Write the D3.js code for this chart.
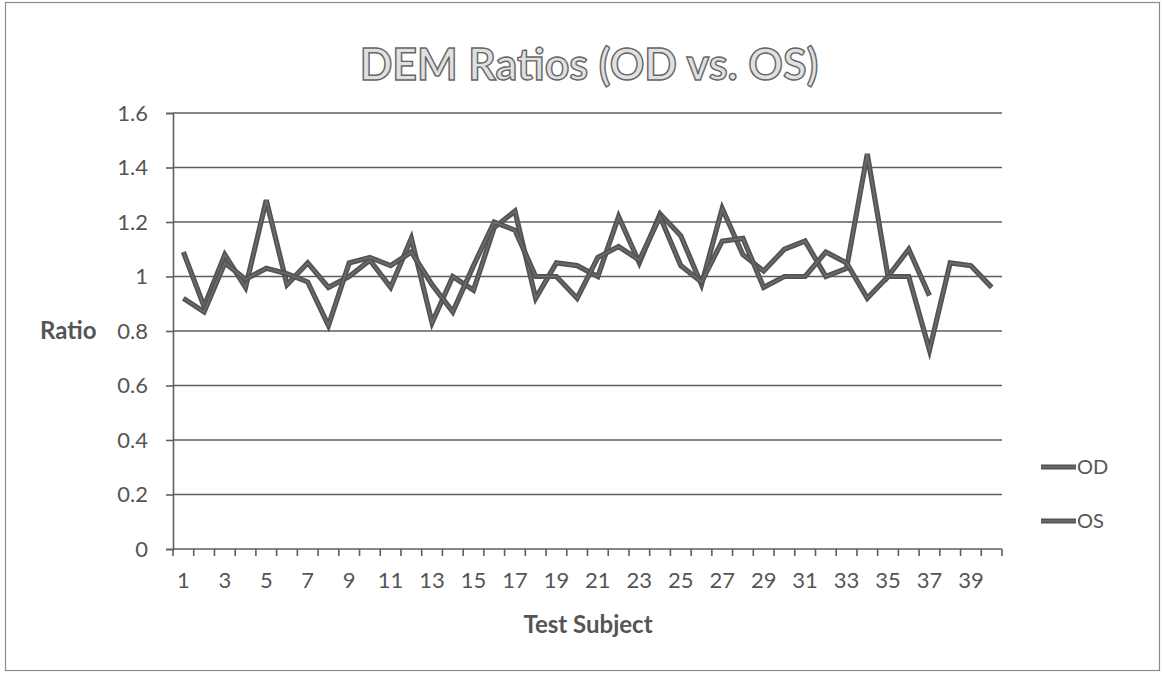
<!DOCTYPE html>
<html>
<head>
<meta charset="utf-8">
<script src="https://cdn.jsdelivr.net/npm/d3@7"></script>
<style>
  html, body { margin: 0; padding: 0; background: #fff; }
  svg { display: block; }
  text { font-family: Lato, "Open Sans", "Noto Sans", sans-serif; }
</style>
</head>
<body>
<svg id="chart" width="1162" height="673"></svg>
<script>
// Test subjects 1..40
const subjects = d3.range(1, 41);

// DEM ratio per subject, right eye (OD) and left eye (OS); OD stops at subject 37
const odValues = [1.09, 0.89, 1.08, 0.96, 1.28, 0.97, 1.05, 0.96, 1.00, 1.06,
                  0.96, 1.14, 0.83, 1.00, 0.95, 1.18, 1.24, 0.92, 1.05, 1.04,
                  1.00, 1.22, 1.05, 1.23, 1.15, 0.97, 1.25, 1.08, 1.02, 1.10,
                  1.13, 1.00, 1.03, 1.45, 1.00, 1.10, 0.93, null, null, null];
const osValues = [0.92, 0.87, 1.05, 0.99, 1.03, 1.01, 0.98, 0.82, 1.05, 1.07,
                  1.04, 1.09, 0.97, 0.87, 1.04, 1.20, 1.17, 1.00, 1.00, 0.92,
                  1.07, 1.11, 1.06, 1.22, 1.04, 0.98, 1.13, 1.14, 0.96, 1.00,
                  1.00, 1.09, 1.05, 0.92, 1.00, 1.00, 0.73, 1.05, 1.04, 0.96];

const seriesNames = ["OD", "OS"];
const yTicks = [0, 0.2, 0.4, 0.6, 0.8, 1, 1.2, 1.4, 1.6];
const xTickLabels = subjects.filter(d => d % 2 === 1);

const titleText = "DEM Ratios (OD vs. OS)";
const xTitle = "Test Subject";
const yTitle = "Ratio";

const plot = { left: 173, right: 1002, top: 113, bottom: 549 };

const svg = d3.select("#chart");

// chart frame
svg.append("rect")
  .attr("x", 5.5).attr("y", 2.5)
  .attr("width", 1154).attr("height", 668)
  .attr("fill", "#fff").attr("stroke", "#8a8a8a").attr("stroke-width", 1.2);

const x = d3.scaleBand().domain(subjects).range([plot.left, plot.right]).padding(0);
const y = d3.scaleLinear().domain([0, 1.6]).range([plot.bottom, plot.top]);

// horizontal gridlines
svg.append("g")
  .selectAll("line")
  .data(yTicks.filter(d => d > 0))
  .join("line")
  .attr("x1", plot.left).attr("x2", plot.right)
  .attr("y1", d => y(d)).attr("y2", d => y(d))
  .attr("stroke", "#5e5e5e").attr("stroke-width", 1.6);

// value axis
const yAxis = d3.axisLeft(y).tickValues(yTicks).tickSize(7).tickPadding(18)
  .tickFormat(d => d3.format("")(+d.toFixed(1)));
const gy = svg.append("g").attr("transform", `translate(${plot.left},0)`).call(yAxis);
gy.select(".domain").attr("stroke", "#5e5e5e").attr("stroke-width", 1.6);
gy.selectAll(".tick line").attr("stroke", "#5e5e5e").attr("stroke-width", 1.6);
gy.selectAll(".tick text")
  .attr("fill", "#555").attr("font-size", 22)
  .style("font-family", "Lato, sans-serif");

// category axis: ticks between categories, labels on odd subjects
const gx = svg.append("g").attr("transform", `translate(0,${plot.bottom})`);
gx.append("line")
  .attr("x1", plot.left).attr("x2", plot.right)
  .attr("stroke", "#5e5e5e").attr("stroke-width", 1.6);
gx.selectAll("line.tk")
  .data(subjects.concat([41]))
  .join("line").attr("class", "tk")
  .attr("x1", d => d <= 40 ? x(d) : plot.right)
  .attr("x2", d => d <= 40 ? x(d) : plot.right)
  .attr("y1", 0).attr("y2", 7)
  .attr("stroke", "#5e5e5e").attr("stroke-width", 1.6);
gx.selectAll("text")
  .data(xTickLabels)
  .join("text")
  .attr("x", d => x(d) + x.bandwidth() / 2)
  .attr("y", 39)
  .attr("text-anchor", "middle")
  .attr("fill", "#555").attr("font-size", 22)
  .text(d => d);

// series lines
const line = d3.line()
  .defined(d => d.v != null)
  .x(d => x(d.s) + x.bandwidth() / 2)
  .y(d => y(d.v));

const seriesData = [odValues, osValues].map(vals => subjects.map((s, i) => ({ s, v: vals[i] })));

const lines = svg.append("g");
seriesData.forEach(data => {
  lines.append("path").datum(data)
    .attr("d", line).attr("fill", "none")
    .attr("stroke", "#535353").attr("stroke-width", 5.2)
    .attr("stroke-linejoin", "miter").attr("stroke-linecap", "butt");
  lines.append("path").datum(data)
    .attr("d", line).attr("fill", "none")
    .attr("stroke", "#6c6c6c").attr("stroke-width", 1.6)
    .attr("stroke-linejoin", "miter");
});

// title
svg.append("text")
  .attr("x", 589).attr("y", 80)
  .attr("text-anchor", "middle")
  .attr("font-size", 43).attr("font-weight", 700)
  .attr("fill", "#e0e0e0").attr("stroke", "#666").attr("stroke-width", 1.4)
  .text(titleText);

// axis titles
svg.append("text")
  .attr("x", 40).attr("y", 339)
  .attr("font-size", 24).attr("font-weight", 700).attr("fill", "#555")
  .text(yTitle);
svg.append("text")
  .attr("x", 588).attr("y", 633)
  .attr("text-anchor", "middle")
  .attr("font-size", 24).attr("font-weight", 700).attr("fill", "#555")
  .text(xTitle);

// legend
const legend = svg.append("g");
seriesNames.forEach((name, i) => {
  const ly = 467 + i * 54;
  legend.append("line")
    .attr("x1", 1041).attr("x2", 1076).attr("y1", ly).attr("y2", ly)
    .attr("stroke", "#535353").attr("stroke-width", 5.2);
  legend.append("line")
    .attr("x1", 1041).attr("x2", 1076).attr("y1", ly).attr("y2", ly)
    .attr("stroke", "#6c6c6c").attr("stroke-width", 1.6);
  legend.append("text")
    .attr("x", 1077).attr("y", ly + 7)
    .attr("font-size", 20).attr("fill", "#555")
    .text(name);
});
</script>
</body>
</html>
